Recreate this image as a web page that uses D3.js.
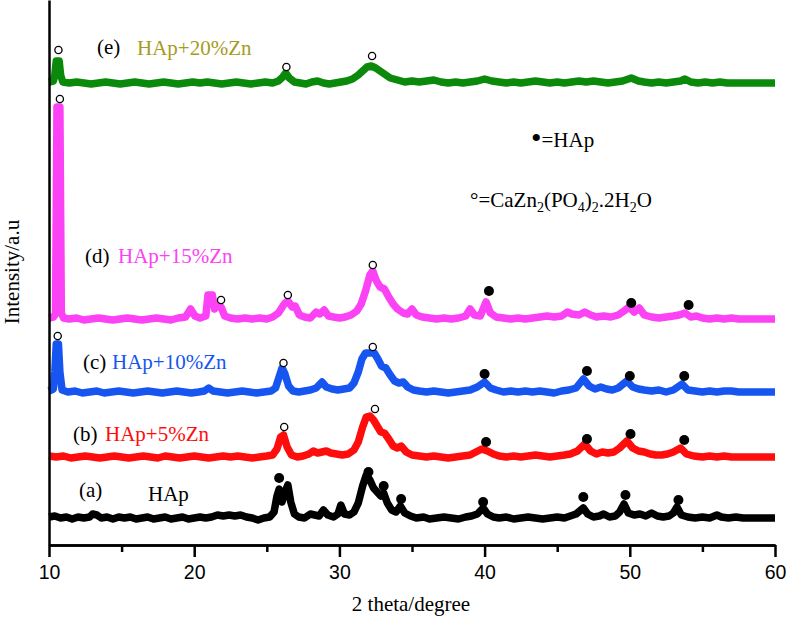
<!DOCTYPE html>
<html>
<head>
<meta charset="utf-8">
<script src="https://cdn.jsdelivr.net/npm/d3@7"></script>
<style>
  body { margin: 0; background: #fff; }
  svg { display: block; }
  .lbl { font-family: "Liberation Serif", "Times New Roman", serif; font-size: 21px; }
  .tick text { font-family: "Liberation Sans", Arial, sans-serif; font-size: 19.5px; fill: #000; }
</style>
</head>
<body>
<svg width="787" height="618"></svg>
<script>
// x ticks
const majorTicks = [10, 20, 30, 40, 50, 60];
const minorTicks = [15, 25, 35, 45, 55];

// XRD patterns: [2theta, intensity above own baseline] (a.u.)
const patternA = [[10,1],[10.4,2],[10.8,0],[11.2,1],[11.6,-1],[12,1],[12.4,0],[12.8,1],[13,4],[13.3,3],[13.6,0],[14,1],[14.4,-1],[14.8,1],[15.2,0],[15.6,1],[16,-1],[16.4,0],[16.8,1],[17.2,-1],[17.6,0],[18,1],[18.4,-1],[18.8,0],[19.2,1],[19.6,-1],[20,0],[20.4,1],[20.8,0],[21.2,1],[21.6,3],[22,2],[22.4,3],[22.8,2],[23.2,3],[23.6,1],[24,0],[24.4,-2],[24.8,0],[25.2,1],[25.5,6],[25.7,22],[25.85,29],[26.05,16],[26.25,26],[26.45,33],[26.65,16],[26.9,4],[27.2,1],[27.6,0],[28,4],[28.3,3],[28.6,2],[28.9,8],[29.2,3],[29.6,1],[29.9,4],[30.1,13],[30.35,4],[30.7,3],[31,6],[31.3,15],[31.6,32],[31.85,43],[32.1,38],[32.35,30],[32.6,26],[32.85,22],[33.05,25],[33.3,15],[33.6,8],[33.9,6],[34.2,12],[34.5,5],[34.9,2],[35.3,0],[35.8,1],[36.2,-1],[36.7,0],[37.2,1],[37.7,0],[38.2,-1],[38.7,1],[39.1,2],[39.5,4],[39.9,10],[40.2,4],[40.6,1],[41,0],[41.5,1],[42,-1],[42.5,0],[43,1],[43.5,0],[44,-1],[44.5,0],[45,1],[45.5,0],[45.9,2],[46.3,4],[46.8,10],[47.1,4],[47.5,1],[47.9,2],[48.2,4],[48.6,1],[49,2],[49.3,6],[49.6,14],[49.9,5],[50.3,3],[50.7,4],[51.1,2],[51.5,5],[51.9,2],[52.3,1],[52.7,2],[53,5],[53.25,11],[53.55,3],[54,1],[54.5,0],[55,1],[55.5,0],[56,3],[56.3,1],[56.8,0],[57.3,1],[57.8,0],[58.5,0],[59.2,0],[60,0]];
const patternB = [[10,1],[10.5,0],[11,1],[11.5,-1],[12,0],[12.5,1],[13,0],[13.5,-1],[14,0],[14.5,1],[15,0],[15.5,-1],[16,0],[16.5,1],[17,0],[17.5,-1],[18,1],[18.5,0],[19,-1],[19.5,0],[20,1],[20.5,0],[21,-1],[21.5,0],[22,1],[22.5,0],[23,1],[23.5,0],[24,-1],[24.5,0],[25,1],[25.4,2],[25.7,8],[25.95,20],[26.15,22],[26.4,10],[26.7,2],[27.1,0],[27.5,1],[27.9,3],[28.2,6],[28.5,4],[28.8,5],[29.1,6],[29.4,4],[29.8,3],[30.2,2],[30.6,3],[31,7],[31.3,15],[31.6,30],[31.85,40],[32.1,41],[32.35,37],[32.6,31],[32.85,25],[33.1,24],[33.4,18],[33.7,11],[34,9],[34.25,11],[34.6,5],[35,2],[35.5,1],[36,0],[36.5,1],[37,0],[37.5,-1],[38,0],[38.5,1],[39,2],[39.4,5],[39.8,8],[40.2,6],[40.6,3],[41,1],[41.5,0],[42,1],[42.5,0],[43,1],[43.5,2],[44,1],[44.5,0],[45,1],[45.5,2],[45.9,3],[46.4,6],[46.9,13],[47.3,6],[47.7,3],[48.1,5],[48.5,4],[48.9,5],[49.3,9],[49.8,16],[50.2,9],[50.6,6],[51,5],[51.4,3],[51.8,2],[52.2,2],[52.6,3],[53,5],[53.5,9],[53.9,3],[54.4,1],[55,0],[55.5,1],[56,0],[56.5,1],[57,0],[57.5,0],[58.5,0],[59.5,0],[60,0]];
const patternC = [[10,1],[10.3,3],[10.4,20],[10.5,48],[10.65,48],[10.75,20],[10.9,2],[11.3,0],[11.8,1],[12.3,-1],[12.8,0],[13.3,1],[13.8,-1],[14.3,0],[14.8,1],[15.3,0],[15.8,-1],[16.3,0],[16.8,1],[17.3,0],[17.8,-1],[18.3,0],[18.8,1],[19.3,0],[19.8,-1],[20.3,0],[20.7,1],[21,4],[21.3,1],[21.8,0],[22.3,-1],[22.8,0],[23.3,1],[23.8,0],[24.3,-1],[24.8,0],[25.3,1],[25.6,4],[25.85,15],[26.05,24],[26.25,18],[26.5,6],[26.8,1],[27.2,0],[27.6,1],[28,2],[28.4,4],[28.8,10],[29.1,5],[29.5,3],[29.9,2],[30.3,3],[30.7,4],[31,9],[31.3,20],[31.55,33],[31.8,39],[32.1,39],[32.4,39],[32.65,33],[32.9,26],[33.2,24],[33.5,17],[33.8,11],[34.1,9],[34.4,10],[34.7,5],[35.1,2],[35.5,1],[36,0],[36.5,1],[37,0],[37.5,-1],[38,0],[38.5,1],[39,2],[39.5,5],[40,10],[40.4,4],[40.8,2],[41.3,0],[41.8,1],[42.3,0],[42.8,1],[43.3,0],[43.8,1],[44.3,0],[44.8,-1],[45.3,1],[45.8,2],[46.3,4],[46.8,13],[47.2,6],[47.6,3],[48,5],[48.4,3],[48.8,2],[49.2,4],[49.8,11],[50.2,5],[50.6,3],[51,2],[51.5,1],[52,2],[52.5,0],[53,2],[53.6,8],[54,2],[54.5,1],[55,0],[55.5,1],[56,0],[56.5,1],[57,1],[57.5,0],[58.5,0],[59.5,0],[60,0]];
const patternD = [[10,1],[10.3,2],[10.45,5],[10.55,212],[10.75,212],[10.85,6],[11,1],[11.4,0],[11.9,1],[12.4,-1],[12.9,0],[13.4,1],[13.9,0],[14.4,-1],[14.9,0],[15.4,1],[15.9,0],[16.4,-1],[16.9,0],[17.4,1],[17.9,0],[18.4,-1],[18.9,1],[19.4,2],[19.75,10],[20.05,3],[20.4,1],[20.8,3],[20.95,24],[21.25,24],[21.4,10],[21.6,14],[21.85,12],[22.1,3],[22.5,1],[23,0],[23.5,1],[24,0],[24.5,1],[25,0],[25.4,2],[25.8,6],[26.2,15],[26.45,18],[26.75,12],[26.95,13],[27.25,4],[27.6,2],[28,1],[28.4,7],[28.65,5],[28.95,9],[29.25,3],[29.6,2],[30,1],[30.4,2],[30.8,4],[31.2,8],[31.5,15],[31.8,28],[32.1,44],[32.3,48],[32.55,38],[32.8,32],[33.1,30],[33.4,22],[33.7,15],[34,10],[34.4,6],[34.7,5],[35,10],[35.3,4],[35.7,2],[36.2,1],[36.7,0],[37.2,1],[37.7,0],[38.2,1],[38.7,3],[39,10],[39.3,4],[39.7,3],[40.1,17],[40.4,6],[40.8,2],[41.3,1],[41.8,0],[42.3,1],[42.8,0],[43.3,1],[43.8,2],[44.3,3],[44.8,2],[45.3,3],[45.7,7],[46,5],[46.5,4],[46.9,7],[47.3,4],[47.7,2],[48.2,3],[48.7,2],[49.2,4],[49.6,8],[49.95,12],[50.3,7],[50.65,11],[51,4],[51.5,2],[52,1],[52.5,2],[53,3],[53.4,4],[53.8,6],[54.2,2],[54.6,3],[55,1],[55.5,0],[56,1],[56.5,0],[57,1],[57.5,0],[58.5,0],[59.5,0],[60,0]];
const patternE = [[10,1],[10.3,2],[10.4,8],[10.5,22],[10.7,22],[10.8,8],[10.95,1],[11.4,0],[11.9,1],[12.4,0],[12.9,-1],[13.4,0],[13.9,1],[14.4,0],[14.9,-1],[15.4,0],[15.9,1],[16.4,0],[16.9,-1],[17.4,0],[17.9,1],[18.4,0],[18.9,-1],[19.4,0],[19.9,1],[20.4,0],[20.9,1],[21.4,0],[21.9,-1],[22.4,0],[22.9,1],[23.4,0],[23.9,-1],[24.4,0],[24.9,1],[25.4,0],[25.8,2],[26.1,6],[26.3,10],[26.55,5],[26.9,1],[27.3,0],[27.7,-1],[28.1,1],[28.5,2],[28.9,0],[29.3,-1],[29.7,0],[30.1,1],[30.5,2],[30.9,4],[31.3,8],[31.6,12],[31.9,16],[32.2,17],[32.5,15],[32.8,12],[33.1,9],[33.5,5],[34,3],[34.5,1],[35,2],[35.5,1],[36,2],[36.5,3],[37,1],[37.5,0],[38,1],[38.5,0],[39,1],[39.5,2],[40,4],[40.5,2],[41,1],[41.5,0],[42,1],[42.5,0],[43,1],[43.5,2],[44,1],[44.5,0],[45,1],[45.5,0],[46,1],[46.5,2],[47,1],[47.5,2],[48,1],[48.5,0],[49,1],[49.5,2],[50.1,5],[50.6,2],[51,1],[51.5,0],[52,1],[52.5,0],[53,1],[53.5,2],[53.8,4],[54.2,1],[54.7,0],[55.2,1],[55.7,0],[56.2,1],[56.7,0],[57.5,0],[58.5,0],[59.5,0],[60,0]];

// vertical offsets of the stacked patterns (a.u.)
const offsets = { a: 27, b: 88, c: 153, d: 226, e: 462 };

// phase markers: [2theta, intensity above baseline]
const hapA = [[25.85,40],[32.0,46],[33.05,32],[34.25,19],[39.9,16],[46.8,21],[49.7,23],[53.35,18]];
const hapB = [[40.1,15],[47.05,18],[50.05,23],[53.75,17]];
const hapC = [[40.0,18],[47.05,21],[50.0,16],[53.75,16]];
const hapD = [[40.3,28],[50.1,16],[54.05,14]];
const czpB = [[26.2,30],[32.45,48]];
const czpC = [[10.6,56],[26.15,29],[32.3,45]];
const czpD = [[10.75,220],[21.85,19],[26.45,24],[32.3,54]];
const czpE = [[10.65,33],[26.35,16],[32.25,27]];

const svg = d3.select('svg');
const x = d3.scaleLinear().domain([10, 60]).range([49, 775]);
const y = d3.scaleLinear().domain([0, 545]).range([545, 0]);

const series = [
  { key: 'a', data: patternA, color: '#000000' },
  { key: 'b', data: patternB, color: '#ff0d0d' },
  { key: 'c', data: patternC, color: '#1655f0' },
  { key: 'd', data: patternD, color: '#fb42f5' },
  { key: 'e', data: patternE, color: '#0b890b' }
];

series.forEach(s => {
  const off = offsets[s.key];
  const line = d3.line()
    .x(d => x(d[0]))
    .y(d => y(d[1] + off));
  svg.append('path')
    .datum(s.data)
    .attr('d', line)
    .attr('fill', 'none')
    .attr('stroke', s.color)
    .attr('stroke-width', 7.5)
    .attr('stroke-linejoin', 'round')
    .attr('stroke-linecap', 'butt');
});

// filled dots = HAp
[[hapA, 'a'], [hapB, 'b'], [hapC, 'c'], [hapD, 'd']].forEach(([pts, k]) => {
  svg.selectAll(null).data(pts).enter().append('circle')
    .attr('cx', d => x(d[0]))
    .attr('cy', d => y(d[1] + offsets[k]))
    .attr('r', 5)
    .attr('fill', '#000');
});

// open circles = CaZn2(PO4)2.2H2O
[[czpB, 'b'], [czpC, 'c'], [czpD, 'd'], [czpE, 'e']].forEach(([pts, k]) => {
  svg.selectAll(null).data(pts).enter().append('circle')
    .attr('cx', d => x(d[0]))
    .attr('cy', d => y(d[1] + offsets[k]))
    .attr('r', 3.6)
    .attr('fill', '#fff')
    .attr('stroke', '#000')
    .attr('stroke-width', 1.3);
});

// axes
svg.append('g')
  .attr('transform', `translate(0, ${y(0)})`)
  .call(d3.axisBottom(x).tickValues(majorTicks).tickSize(12).tickSizeOuter(0).tickPadding(8).tickFormat(d3.format('d')));
svg.append('g')
  .attr('transform', `translate(0, ${y(0)})`)
  .call(d3.axisBottom(x).tickValues(minorTicks).tickSize(7).tickSizeOuter(0).tickFormat(''));
svg.append('g')
  .attr('transform', `translate(${x(10)}, 0)`)
  .call(d3.axisLeft(y).tickValues([]).tickSizeOuter(0));

svg.selectAll('.domain').attr('stroke', '#000').attr('stroke-width', 2.5);
svg.selectAll('.tick line').attr('stroke', '#000').attr('stroke-width', 2.5);

// axis titles
svg.append('text').attr('class', 'lbl')
  .attr('x', 411).attr('y', 611).attr('text-anchor', 'middle')
  .text('2 theta/degree');
svg.append('text').attr('class', 'lbl')
  .attr('transform', 'translate(19, 272) rotate(-90)')
  .attr('text-anchor', 'middle').attr('font-size', 20)
  .text('Intensity/a.u');

// sample labels
const labels = [
  { tag: '(a)', name: 'HAp', color: '#000', tx: 79, nx: 148, ty: 497, ny: 501 },
  { tag: '(b)', name: 'HAp+5%Zn', color: '#ff0d0d', tx: 73, nx: 105, ty: 441, ny: 441 },
  { tag: '(c)', name: 'HAp+10%Zn', color: '#1655f0', tx: 83, nx: 112, ty: 369, ny: 369 },
  { tag: '(d)', name: 'HAp+15%Zn', color: '#fb42f5', tx: 85, nx: 118, ty: 263, ny: 263 },
  { tag: '(e)', name: 'HAp+20%Zn', color: '#a69b22', tx: 97, nx: 137, ty: 54, ny: 55 }
];
labels.forEach(l => {
  svg.append('text').attr('class', 'lbl').attr('x', l.tx).attr('y', l.ty).text(l.tag);
  svg.append('text').attr('class', 'lbl').attr('x', l.nx).attr('y', l.ny)
    .attr('fill', l.color).text(l.name);
});

// legend
const leg1 = svg.append('text').attr('class', 'lbl').attr('x', 531).attr('y', 147);
leg1.append('tspan').attr('font-size', 30).attr('dy', 1).text('\u2022');
leg1.append('tspan').attr('dy', -1).text('=HAp');
const leg = svg.append('text').attr('class', 'lbl').attr('x', 470).attr('y', 207);
const parts = [['\u00b0=CaZn', 0], ['2', 1], ['(PO', 0], ['4', 1], [')', 0], ['2', 1], ['.2H', 0], ['2', 1], ['O', 0]];
parts.forEach(([t, sub], i) => {
  const ts = leg.append('tspan').text(t);
  if (sub) ts.attr('font-size', 14).attr('dy', 5);
  else if (i > 0) ts.attr('dy', -5);
});
</script>
</body>
</html>
